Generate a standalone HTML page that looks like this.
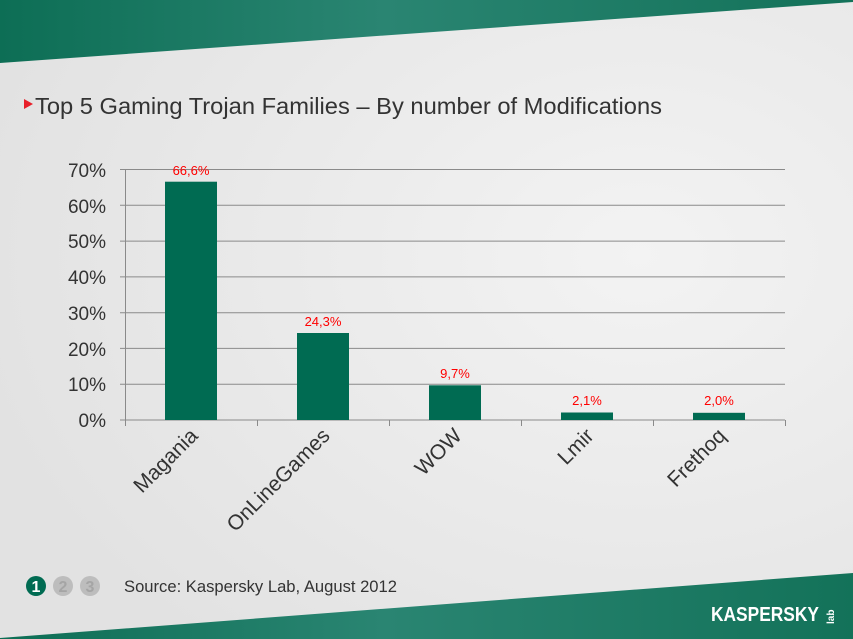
<!DOCTYPE html>
<html><head><meta charset="utf-8"><style>
html,body{margin:0;padding:0;width:853px;height:639px;overflow:hidden}
svg{display:block;font-family:"Liberation Sans",Arial,sans-serif}
</style></head><body>
<svg width="853" height="639" viewBox="0 0 853 639" xmlns="http://www.w3.org/2000/svg">
<defs>
<radialGradient id="bg" cx="0.75" cy="0.4" r="0.8">
<stop offset="0" stop-color="#f3f3f3"/><stop offset="1" stop-color="#e2e2e2"/></radialGradient>
<linearGradient id="gr" x1="0" y1="0" x2="1" y2="0">
<stop offset="0" stop-color="#0d6e55"/><stop offset="0.45" stop-color="#2a8572"/><stop offset="1" stop-color="#137259"/></linearGradient>
</defs>
<rect width="853" height="639" fill="url(#bg)"/>
<polygon points="0,0 853,0 853,2 0,63" fill="url(#gr)"/>
<polygon points="0,638 853,573 853,639 0,639" fill="url(#gr)"/>
<polygon points="24,99 33,104 24,109" fill="#e8202a"/>
<text x="35" y="114" font-size="23" fill="#333" textLength="627" lengthAdjust="spacingAndGlyphs">Top 5 Gaming Trojan Families – By number of Modifications</text>
<g stroke="#8a8a8a" stroke-width="1">
<line x1="120" y1="169.5" x2="785" y2="169.5"/>
<line x1="120" y1="205.3" x2="785" y2="205.3"/>
<line x1="120" y1="241.1" x2="785" y2="241.1"/>
<line x1="120" y1="276.9" x2="785" y2="276.9"/>
<line x1="120" y1="312.7" x2="785" y2="312.7"/>
<line x1="120" y1="348.4" x2="785" y2="348.4"/>
<line x1="120" y1="384.2" x2="785" y2="384.2"/>
<line x1="120" y1="420" x2="785" y2="420"/>
<line x1="125.5" y1="169.5" x2="125.5" y2="426"/>
<line x1="257.5" y1="420" x2="257.5" y2="426"/>
<line x1="389.5" y1="420" x2="389.5" y2="426"/>
<line x1="521.5" y1="420" x2="521.5" y2="426"/>
<line x1="653.5" y1="420" x2="653.5" y2="426"/>
<line x1="785.5" y1="420" x2="785.5" y2="426"/>
</g>
<g font-size="19" fill="#333" text-anchor="end">
<text x="106" y="177">70%</text><text x="106" y="213">60%</text><text x="106" y="248">50%</text>
<text x="106" y="284">40%</text><text x="106" y="320">30%</text><text x="106" y="356">20%</text>
<text x="106" y="391">10%</text><text x="106" y="427">0%</text>
</g>
<g fill="#006b52">
<rect x="165" y="181.7" width="52" height="238.3"/>
<rect x="297" y="333" width="52" height="87"/>
<rect x="429" y="385.3" width="52" height="34.7"/>
<rect x="561" y="412.5" width="52" height="7.5"/>
<rect x="693" y="412.8" width="52" height="7.2"/>
</g>
<g font-size="13" fill="#ff0000" text-anchor="middle">
<text x="191" y="175">66,6%</text><text x="323" y="326">24,3%</text>
<text x="455" y="378">9,7%</text><text x="587" y="405">2,1%</text><text x="719" y="405">2,0%</text>
</g>
<g font-size="21" fill="#333" text-anchor="end">
<text transform="translate(199,437) rotate(-45)">Magania</text>
<text transform="translate(331,437) rotate(-45)">OnLineGames</text>
<text transform="translate(463,437) rotate(-45)">WOW</text>
<text transform="translate(595,437) rotate(-45)">Lmir</text>
<text transform="translate(727,437) rotate(-45)">Frethoq</text>
</g>
<circle cx="36" cy="586" r="10" fill="#006b52"/>
<circle cx="63" cy="586" r="10" fill="#bdbdbd"/>
<circle cx="90" cy="586" r="10" fill="#bdbdbd"/>
<g font-size="16" font-weight="bold" text-anchor="middle">
<text x="36" y="592" fill="#fff">1</text><text x="63" y="592" fill="#a5a5a5">2</text><text x="90" y="592" fill="#a5a5a5">3</text>
</g>
<text x="124" y="592" font-size="17" fill="#333" textLength="273" lengthAdjust="spacingAndGlyphs">Source: Kaspersky Lab, August 2012</text>
<text x="711" y="621" font-size="20" font-weight="bold" fill="#fff" textLength="108" lengthAdjust="spacingAndGlyphs">KASPERSKY</text>
<text transform="translate(834,624) rotate(-90)" font-size="10" font-weight="bold" fill="#fff">lab</text>
</svg>
</body></html>
